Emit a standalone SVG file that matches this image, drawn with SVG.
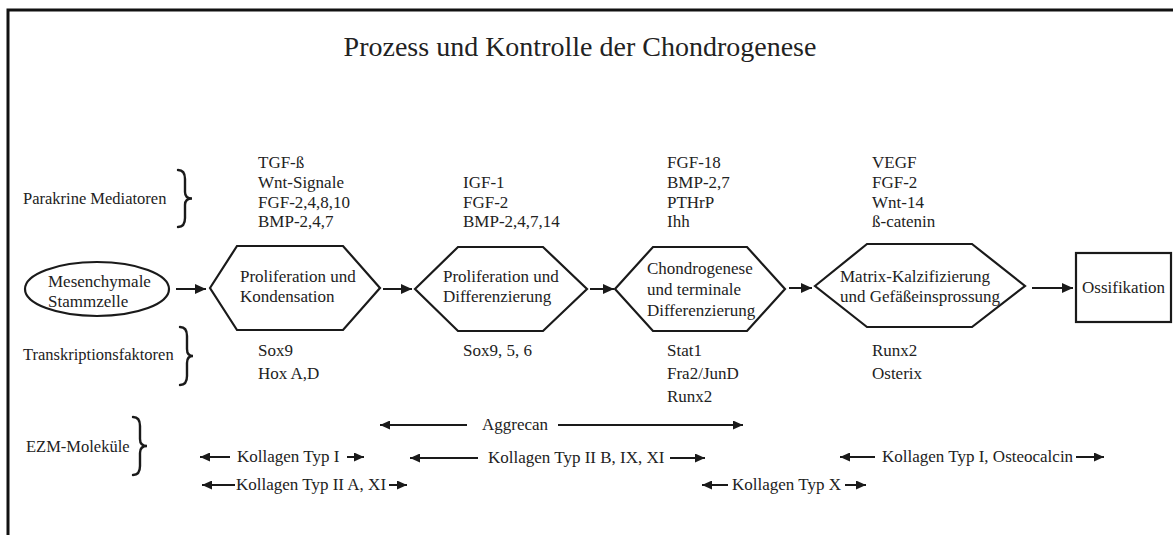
<svg xmlns="http://www.w3.org/2000/svg" width="1173" height="535" viewBox="0 0 1173 535">
<style>
text{font-family:"Liberation Serif","Times New Roman",serif;fill:#222;font-size:17px}
.side{font-size:16.5px}
.title{font-size:28px}
.shape{fill:#fff;stroke:#1a1a1a;stroke-width:2.2}
.brace{fill:none;stroke:#1a1a1a;stroke-width:2.4;stroke-linecap:round}
.arr{stroke:#1a1a1a;stroke-width:2;fill:none;marker-end:url(#ah)}
.arr2{stroke:#1a1a1a;stroke-width:2;fill:none;marker-end:url(#ahs)}
</style>
<defs>
<marker id="ah" markerUnits="userSpaceOnUse" markerWidth="12" markerHeight="10" refX="11" refY="5" orient="auto">
<path d="M0,0 L11,5 L0,10 Z" fill="#1a1a1a"/>
</marker>
<marker id="ahs" markerUnits="userSpaceOnUse" markerWidth="11" markerHeight="9" refX="10" refY="4.5" orient="auto">
<path d="M0,0 L10,4.5 L0,9 Z" fill="#1a1a1a"/>
</marker>
</defs>
<rect x="0" y="0" width="1173" height="535" fill="#fff"/>
<polyline points="8,535 8,10 1173,10" fill="none" stroke="#111" stroke-width="3"/>
<text class="title" x="580" y="56" text-anchor="middle">Prozess und Kontrolle der Chondrogenese</text>

<g id="labels">
<text class="side" x="23" y="204">Parakrine Mediatoren</text>
<path class="brace" d="M178,170 Q185,170 185,179 L185,192 Q185,198.5 192,198.5 Q185,198.5 185,205 L185,218 Q185,227 178,227"/>
<text class="side" x="23" y="360">Transkriptionsfaktoren</text>
<path class="brace" d="M180,327 Q187,327 187,336 L187,349 Q187,356 193,356 Q187,356 187,363 L187,376 Q187,385 180,385"/>
<text class="side" x="26" y="452">EZM-Moleküle</text>
<path class="brace" d="M133,417 Q140,417 140,426 L140,439 Q140,446 147,446 Q140,446 140,453 L140,466 Q140,475 133,475"/>
</g>

<g id="mediators">
<text x="258" y="168">TGF-ß</text>
<text x="258" y="188">Wnt-Signale</text>
<text x="258" y="208">FGF-2,4,8,10</text>
<text x="258" y="227">BMP-2,4,7</text>
<text x="463" y="188">IGF-1</text>
<text x="463" y="208">FGF-2</text>
<text x="463" y="227">BMP-2,4,7,14</text>
<text x="667" y="168">FGF-18</text>
<text x="667" y="188">BMP-2,7</text>
<text x="667" y="208">PTHrP</text>
<text x="667" y="227">Ihh</text>
<text x="872" y="168">VEGF</text>
<text x="872" y="188">FGF-2</text>
<text x="872" y="208">Wnt-14</text>
<text x="872" y="227">ß-catenin</text>
</g>

<g id="factors">
<text x="258" y="356">Sox9</text>
<text x="258" y="379">Hox A,D</text>
<text x="463" y="356">Sox9, 5, 6</text>
<text x="667" y="356">Stat1</text>
<text x="667" y="379">Fra2/JunD</text>
<text x="667" y="402">Runx2</text>
<text x="872" y="356">Runx2</text>
<text x="872" y="379">Osterix</text>
</g>

<g id="stammzelle">
<ellipse class="shape" cx="97" cy="289" rx="72" ry="27"/>
<text x="48" y="287">Mesenchymale</text>
<text x="48" y="307">Stammzelle</text>
</g>
<g id="proliferation-kondensation">
<polygon class="shape" points="210,288 237,246 343,246 380,288 343,330 237,330"/>
<text x="240" y="282">Proliferation und</text>
<text x="240" y="302">Kondensation</text>
</g>
<g id="proliferation-differenzierung">
<polygon class="shape" points="415,289 458,247 543,247 587,289 543,331 458,331"/>
<text x="443" y="282">Proliferation und</text>
<text x="443" y="302">Differenzierung</text>
</g>
<g id="chondrogenese">
<polygon class="shape" points="615,289 653,247 747,247 785,289 747,331 653,331"/>
<text x="647" y="274">Chondrogenese</text>
<text x="647" y="295">und terminale</text>
<text x="647" y="316">Differenzierung</text>
</g>
<g id="kalzifizierung">
<polygon class="shape" points="815,286 867,244 972,244 1025,286 972,327 867,327"/>
<text x="840" y="282">Matrix-Kalzifizierung</text>
<text x="840" y="302">und Gefäßeinsprossung</text>
</g>
<g id="ossifikation">
<rect class="shape" x="1076" y="253" width="95" height="69"/>
<text x="1082" y="293">Ossifikation</text>
</g>

<g id="connectors">
<line class="arr" x1="176" y1="289" x2="206" y2="289"/>
<line class="arr" x1="383" y1="289" x2="412" y2="289"/>
<line class="arr" x1="590" y1="289" x2="614" y2="289"/>
<line class="arr" x1="789" y1="288" x2="812" y2="288"/>
<line class="arr" x1="1032" y1="288" x2="1073" y2="288"/>
</g>

<g id="ezm">
<line class="arr2" x1="467" y1="425" x2="380" y2="425"/>
<text x="482" y="430">Aggrecan</text>
<line class="arr2" x1="558" y1="425" x2="743" y2="425"/>

<line class="arr2" x1="230" y1="457" x2="200" y2="457"/>
<text x="237" y="462">Kollagen Typ I</text>
<line class="arr2" x1="347" y1="457" x2="364" y2="457"/>

<line class="arr2" x1="235" y1="485" x2="202" y2="485"/>
<text x="236" y="490">Kollagen Typ II A, XI</text>
<line class="arr2" x1="389" y1="485" x2="407" y2="485"/>

<line class="arr2" x1="478" y1="458" x2="410" y2="458"/>
<text x="488" y="463">Kollagen Typ II B, IX, XI</text>
<line class="arr2" x1="670" y1="458" x2="705" y2="458"/>

<line class="arr2" x1="728" y1="485" x2="702" y2="485"/>
<text x="732" y="490">Kollagen Typ X</text>
<line class="arr2" x1="845" y1="485" x2="866" y2="485"/>

<line class="arr2" x1="875" y1="457" x2="840" y2="457"/>
<text x="882" y="462">Kollagen Typ I, Osteocalcin</text>
<line class="arr2" x1="1076" y1="457" x2="1104" y2="457"/>
</g>
</svg>
